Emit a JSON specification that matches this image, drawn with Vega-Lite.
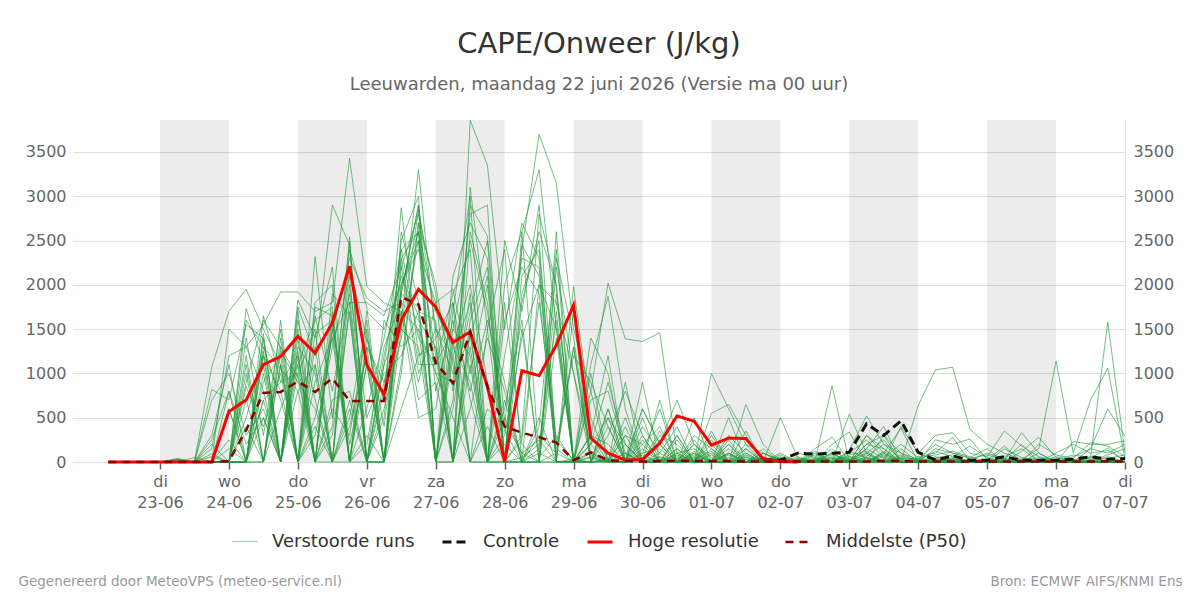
{
  "$schema": "https://vega.github.io/schema/vega-lite/v6.json",
  "width": 1052,
  "height": 342,
  "padding": {"left": 18, "top": 29, "right": 5, "bottom": 5},
  "background": "white",
  "config": {"font": "DejaVu Sans", "view": {"stroke": null}, "axisX": {"ticks": true, "tickSize": 7, "tickColor": "#666666"}},
  "title": {
    "text": "CAPE/Onweer (J/kg)",
    "subtitle": "Leeuwarden, maandag 22 juni 2026 (Versie ma 00 uur)",
    "anchor": "middle",
    "frame": "group",
    "fontSize": 29,
    "fontWeight": "normal",
    "color": "#333333",
    "subtitleFontSize": 18,
    "subtitleColor": "#666666",
    "subtitlePadding": 17.5,
    "offset": 24
  },
  "datasets": {
    "bands": [
      {"t": "2026-06-23T00:00", "e": "2026-06-24T00:00"},
      {"t": "2026-06-25T00:00", "e": "2026-06-26T00:00"},
      {"t": "2026-06-27T00:00", "e": "2026-06-28T00:00"},
      {"t": "2026-06-29T00:00", "e": "2026-06-30T00:00"},
      {"t": "2026-07-01T00:00", "e": "2026-07-02T00:00"},
      {"t": "2026-07-03T00:00", "e": "2026-07-04T00:00"},
      {"t": "2026-07-05T00:00", "e": "2026-07-06T00:00"}
    ],
    "runs": [
      {"t":"2026-06-22T06:00","Hoge resolutie":0,"Middelste (P50)":0,"m1":0,"m2":0,"m3":0,"m4":0,"m5":0,"m6":0,"m7":0,"m8":0,"m9":0,"m10":0,"m11":0,"m12":0,"m13":0,"m14":0,"m15":0,"m16":0,"m17":0,"m18":0,"m19":0,"m20":0,"m21":0,"m22":0,"m23":0,"m24":0,"m25":0,"m26":0,"m27":0,"m28":0,"m29":0,"m30":0},
      {"t":"2026-06-22T12:00","Hoge resolutie":0,"Middelste (P50)":0,"m1":0,"m2":0,"m3":0,"m4":0,"m5":0,"m6":0,"m7":0,"m8":0,"m9":0,"m10":0,"m11":0,"m12":0,"m13":0,"m14":0,"m15":0,"m16":0,"m17":0,"m18":0,"m19":0,"m20":0,"m21":0,"m22":0,"m23":0,"m24":0,"m25":0,"m26":0,"m27":0,"m28":0,"m29":0,"m30":0},
      {"t":"2026-06-22T18:00","Hoge resolutie":0,"Middelste (P50)":0,"m1":0,"m2":0,"m3":0,"m4":0,"m5":0,"m6":0,"m7":0,"m8":0,"m9":0,"m10":0,"m11":0,"m12":0,"m13":0,"m14":0,"m15":0,"m16":0,"m17":0,"m18":0,"m19":0,"m20":0,"m21":0,"m22":0,"m23":0,"m24":0,"m25":0,"m26":0,"m27":0,"m28":0,"m29":0,"m30":0},
      {"t":"2026-06-23T00:00","Hoge resolutie":0,"Middelste (P50)":0,"m1":0,"m2":0,"m3":0,"m4":0,"m5":0,"m6":0,"m7":0,"m8":0,"m9":0,"m10":0,"m11":0,"m12":0,"m13":0,"m14":0,"m15":0,"m16":0,"m17":0,"m18":0,"m19":0,"m20":0,"m21":0,"m22":0,"m23":0,"m24":0,"m25":0,"m26":0,"m27":0,"m28":0,"m29":0,"m30":0},
      {"t":"2026-06-23T06:00","Hoge resolutie":0,"Middelste (P50)":0,"m1":0,"m2":30,"m3":0,"m4":0,"m5":20,"m6":0,"m7":0,"m8":40,"m9":0,"m10":0,"m11":0,"m12":10,"m13":0,"m14":0,"m15":30,"m16":0,"m17":0,"m18":0,"m19":0,"m20":0,"m21":0,"m22":20,"m23":0,"m24":0,"m25":0,"m26":0,"m27":0,"m28":0,"m29":0,"m30":0},
      {"t":"2026-06-23T12:00","Hoge resolutie":0,"Middelste (P50)":0,"m1":0,"m2":0,"m3":10,"m4":0,"m5":0,"m6":0,"m7":0,"m8":0,"m9":0,"m10":0,"m11":0,"m12":0,"m13":0,"m14":0,"m15":0,"m16":0,"m17":0,"m18":0,"m19":50,"m20":0,"m21":0,"m22":0,"m23":0,"m24":0,"m25":0,"m26":0,"m27":0,"m28":0,"m29":0,"m30":0},
      {"t":"2026-06-23T18:00","Hoge resolutie":0,"Middelste (P50)":0,"m1":0,"m2":0,"m3":1070,"m4":0,"m5":820,"m6":0,"m7":0,"m8":250,"m9":0,"m10":0,"m11":300,"m12":0,"m13":0,"m14":200,"m15":0,"m16":0,"m17":0,"m18":700,"m19":0,"m20":0,"m21":90,"m22":0,"m23":0,"m24":0,"m25":150,"m26":0,"m27":0,"m28":0,"m29":60,"m30":0},
      {"t":"2026-06-24T00:00","Hoge resolutie":570,"Middelste (P50)":10,"m1":0,"m2":1500,"m3":1700,"m4":0,"m5":700,"m6":0,"m7":0,"m8":800,"m9":0,"m10":0,"m11":1100,"m12":0,"m13":600,"m14":0,"m15":0,"m16":250,"m17":0,"m18":1000,"m19":0,"m20":0,"m21":0,"m22":0,"m23":800,"m24":0,"m25":1200,"m26":0,"m27":0,"m28":150,"m29":0,"m30":600},
      {"t":"2026-06-24T06:00","Hoge resolutie":700,"Middelste (P50)":360,"m1":500,"m2":1300,"m3":1950,"m4":0,"m5":1550,"m6":0,"m7":1730,"m8":0,"m9":900,"m10":0,"m11":0,"m12":1400,"m13":0,"m14":1200,"m15":0,"m16":0,"m17":700,"m18":300,"m19":1100,"m20":0,"m21":1600,"m22":0,"m23":200,"m24":1000,"m25":1300,"m26":0,"m27":400,"m28":0,"m29":850,"m30":0},
      {"t":"2026-06-24T12:00","Hoge resolutie":1100,"Middelste (P50)":780,"m1":1200,"m2":1550,"m3":1500,"m4":700,"m5":1400,"m6":900,"m7":1100,"m8":1300,"m9":1600,"m10":0,"m11":1250,"m12":300,"m13":1450,"m14":0,"m15":1650,"m16":700,"m17":0,"m18":600,"m19":0,"m20":1000,"m21":1300,"m22":0,"m23":500,"m24":0,"m25":800,"m26":1200,"m27":0,"m28":1400,"m29":400,"m30":500},
      {"t":"2026-06-24T18:00","Hoge resolutie":1190,"Middelste (P50)":790,"m1":0,"m2":1920,"m3":1100,"m4":900,"m5":0,"m6":1200,"m7":0,"m8":1050,"m9":1300,"m10":600,"m11":0,"m12":1500,"m13":0,"m14":1100,"m15":900,"m16":0,"m17":1400,"m18":0,"m19":1250,"m20":0,"m21":700,"m22":1100,"m23":0,"m24":1600,"m25":0,"m26":800,"m27":1300,"m28":0,"m29":1000,"m30":0},
      {"t":"2026-06-25T00:00","Hoge resolutie":1420,"Middelste (P50)":910,"m1":800,"m2":1920,"m3":0,"m4":1200,"m5":1000,"m6":0,"m7":1750,"m8":800,"m9":0,"m10":1100,"m11":1400,"m12":0,"m13":1830,"m14":0,"m15":1000,"m16":1300,"m17":0,"m18":1500,"m19":900,"m20":1100,"m21":0,"m22":0,"m23":1200,"m24":0,"m25":1700,"m26":0,"m27":950,"m28":1600,"m29":0,"m30":1250},
      {"t":"2026-06-25T06:00","Hoge resolutie":1230,"Middelste (P50)":790,"m1":1100,"m2":1700,"m3":900,"m4":0,"m5":1500,"m6":1750,"m7":1200,"m8":0,"m9":400,"m10":1600,"m11":0,"m12":1100,"m13":1400,"m14":2320,"m15":0,"m16":1000,"m17":500,"m18":0,"m19":600,"m20":0,"m21":1650,"m22":1300,"m23":0,"m24":300,"m25":0,"m26":1800,"m27":0,"m28":700,"m29":1450,"m30":0},
      {"t":"2026-06-25T12:00","Hoge resolutie":1570,"Middelste (P50)":945,"m1":0,"m2":1800,"m3":1400,"m4":400,"m5":0,"m6":1650,"m7":2900,"m8":600,"m9":0,"m10":1750,"m11":1500,"m12":0,"m13":2200,"m14":500,"m15":1600,"m16":0,"m17":1400,"m18":1900,"m19":0,"m20":1500,"m21":800,"m22":0,"m23":1700,"m24":1300,"m25":0,"m26":2000,"m27":300,"m28":0,"m29":1600,"m30":700},
      {"t":"2026-06-25T18:00","Hoge resolutie":2210,"Middelste (P50)":690,"m1":400,"m2":3430,"m3":0,"m4":2540,"m5":1800,"m6":0,"m7":2450,"m8":300,"m9":2000,"m10":0,"m11":2300,"m12":600,"m13":0,"m14":2480,"m15":200,"m16":0,"m17":1800,"m18":1650,"m19":2200,"m20":0,"m21":1900,"m22":500,"m23":0,"m24":2100,"m25":700,"m26":0,"m27":1700,"m28":2400,"m29":0,"m30":800},
      {"t":"2026-06-26T00:00","Hoge resolutie":1095,"Middelste (P50)":690,"m1":1200,"m2":1980,"m3":1400,"m4":0,"m5":1800,"m6":300,"m7":0,"m8":1500,"m9":500,"m10":0,"m11":1850,"m12":0,"m13":1300,"m14":0,"m15":1100,"m16":1700,"m17":0,"m18":0,"m19":1400,"m20":200,"m21":0,"m22":1600,"m23":600,"m24":0,"m25":0,"m26":1300,"m27":0,"m28":1750,"m29":1100,"m30":0},
      {"t":"2026-06-26T06:00","Hoge resolutie":760,"Middelste (P50)":690,"m1":0,"m2":1800,"m3":700,"m4":1100,"m5":1650,"m6":0,"m7":800,"m8":0,"m9":1000,"m10":500,"m11":1700,"m12":1200,"m13":0,"m14":0,"m15":0,"m16":1500,"m17":600,"m18":0,"m19":400,"m20":1300,"m21":0,"m22":0,"m23":1400,"m24":900,"m25":0,"m26":900,"m27":1100,"m28":0,"m29":0,"m30":1600},
      {"t":"2026-06-26T12:00","Hoge resolutie":1600,"Middelste (P50)":1860,"m1":2000,"m2":1700,"m3":2870,"m4":1600,"m5":2200,"m6":1500,"m7":2400,"m8":1900,"m9":1200,"m10":2500,"m11":1800,"m12":2100,"m13":1000,"m14":2300,"m15":1700,"m16":2000,"m17":1400,"m18":2600,"m19":1900,"m20":1800,"m21":2200,"m22":1100,"m23":2400,"m24":1500,"m25":2000,"m26":1700,"m27":2300,"m28":600,"m29":1900,"m30":1300},
      {"t":"2026-06-26T18:00","Hoge resolutie":1950,"Middelste (P50)":1780,"m1":2500,"m2":900,"m3":1200,"m4":3300,"m5":2800,"m6":1300,"m7":2600,"m8":2900,"m9":1700,"m10":3000,"m11":1600,"m12":1650,"m13":2700,"m14":1100,"m15":1500,"m16":2600,"m17":2500,"m18":1800,"m19":2900,"m20":700,"m21":1000,"m22":2700,"m23":1400,"m24":2850,"m25":2400,"m26":500,"m27":2600,"m28":1200,"m29":1750,"m30":1500},
      {"t":"2026-06-27T00:00","Hoge resolutie":1750,"Middelste (P50)":1120,"m1":0,"m2":1800,"m3":1300,"m4":1400,"m5":1900,"m6":0,"m7":1000,"m8":800,"m9":1600,"m10":0,"m11":1300,"m12":0,"m13":2000,"m14":1100,"m15":0,"m16":1700,"m17":1200,"m18":0,"m19":1500,"m20":900,"m21":1500,"m22":0,"m23":1100,"m24":0,"m25":1800,"m26":600,"m27":0,"m28":1400,"m29":0,"m30":1000},
      {"t":"2026-06-27T06:00","Hoge resolutie":1350,"Middelste (P50)":890,"m1":1500,"m2":1950,"m3":0,"m4":1800,"m5":0,"m6":1200,"m7":900,"m8":1600,"m9":0,"m10":2100,"m11":0,"m12":1400,"m13":800,"m14":1900,"m15":0,"m16":1300,"m17":0,"m18":1700,"m19":1000,"m20":0,"m21":1200,"m22":600,"m23":1500,"m24":0,"m25":1100,"m26":1800,"m27":700,"m28":0,"m29":1300,"m30":500},
      {"t":"2026-06-27T12:00","Hoge resolutie":1470,"Middelste (P50)":1470,"m1":1200,"m2":1000,"m3":3860,"m4":0,"m5":3100,"m6":1800,"m7":2800,"m8":800,"m9":1500,"m10":2700,"m11":1100,"m12":0,"m13":1700,"m14":2400,"m15":2600,"m16":900,"m17":600,"m18":3000,"m19":1400,"m20":1450,"m21":0,"m22":1900,"m23":2500,"m24":1600,"m25":0,"m26":700,"m27":2900,"m28":1300,"m29":2000,"m30":0},
      {"t":"2026-06-27T18:00","Hoge resolutie":850,"Middelste (P50)":850,"m1":0,"m2":2000,"m3":3350,"m4":0,"m5":1500,"m6":0,"m7":2900,"m8":1600,"m9":0,"m10":2300,"m11":0,"m12":600,"m13":2500,"m14":0,"m15":1800,"m16":0,"m17":1400,"m18":0,"m19":2100,"m20":0,"m21":400,"m22":0,"m23":1700,"m24":2200,"m25":0,"m26":0,"m27":2550,"m28":0,"m29":900,"m30":1500},
      {"t":"2026-06-28T00:00","Hoge resolutie":0,"Middelste (P50)":400,"m1":300,"m2":0,"m3":1500,"m4":500,"m5":2400,"m6":0,"m7":0,"m8":900,"m9":200,"m10":0,"m11":1800,"m12":400,"m13":0,"m14":2500,"m15":0,"m16":1200,"m17":800,"m18":0,"m19":0,"m20":700,"m21":0,"m22":1600,"m23":350,"m24":0,"m25":2000,"m26":0,"m27":450,"m28":600,"m29":0,"m30":0},
      {"t":"2026-06-28T06:00","Hoge resolutie":1030,"Middelste (P50)":330,"m1":1400,"m2":2400,"m3":2700,"m4":100,"m5":0,"m6":1800,"m7":2600,"m8":0,"m9":0,"m10":2100,"m11":200,"m12":2450,"m13":0,"m14":1700,"m15":50,"m16":2300,"m17":0,"m18":0,"m19":1900,"m20":0,"m21":1500,"m22":2200,"m23":0,"m24":300,"m25":2600,"m26":0,"m27":100,"m28":1600,"m29":0,"m30":250},
      {"t":"2026-06-28T12:00","Hoge resolutie":975,"Middelste (P50)":280,"m1":2000,"m2":3700,"m3":2300,"m4":0,"m5":300,"m6":2600,"m7":3300,"m8":100,"m9":400,"m10":2400,"m11":0,"m12":2100,"m13":0,"m14":2900,"m15":200,"m16":2200,"m17":0,"m18":500,"m19":2500,"m20":150,"m21":0,"m22":1900,"m23":0,"m24":2800,"m25":50,"m26":2000,"m27":250,"m28":0,"m29":0,"m30":1800},
      {"t":"2026-06-28T18:00","Hoge resolutie":1320,"Middelste (P50)":220,"m1":1800,"m2":3150,"m3":0,"m4":2600,"m5":100,"m6":2000,"m7":1500,"m8":0,"m9":2400,"m10":200,"m11":1700,"m12":0,"m13":2300,"m14":150,"m15":1600,"m16":0,"m17":2200,"m18":0,"m19":50,"m20":1900,"m21":1400,"m22":0,"m23":0,"m24":2000,"m25":300,"m26":1500,"m27":0,"m28":100,"m29":0,"m30":250},
      {"t":"2026-06-29T00:00","Hoge resolutie":1770,"Middelste (P50)":20,"m1":1000,"m2":1500,"m3":1980,"m4":0,"m5":1300,"m6":0,"m7":0,"m8":1700,"m9":0,"m10":1200,"m11":0,"m12":30,"m13":1400,"m14":0,"m15":0,"m16":0,"m17":1000,"m18":10,"m19":1300,"m20":0,"m21":0,"m22":0,"m23":0,"m24":0,"m25":0,"m26":0,"m27":0,"m28":0,"m29":0,"m30":20},
      {"t":"2026-06-29T06:00","Hoge resolutie":270,"Middelste (P50)":110,"m1":200,"m2":800,"m3":500,"m4":1100,"m5":0,"m6":1400,"m7":300,"m8":0,"m9":50,"m10":900,"m11":200,"m12":0,"m13":80,"m14":700,"m15":0,"m16":1000,"m17":0,"m18":300,"m19":30,"m20":0,"m21":800,"m22":0,"m23":200,"m24":60,"m25":0,"m26":120,"m27":0,"m28":100,"m29":300,"m30":0},
      {"t":"2026-06-29T12:00","Hoge resolutie":100,"Middelste (P50)":20,"m1":500,"m2":2020,"m3":0,"m4":1870,"m5":0,"m6":1000,"m7":0,"m8":600,"m9":0,"m10":400,"m11":900,"m12":300,"m13":0,"m14":800,"m15":20,"m16":0,"m17":500,"m18":1200,"m19":0,"m20":10,"m21":0,"m22":600,"m23":0,"m24":0,"m25":400,"m26":0,"m27":30,"m28":0,"m29":200,"m30":0},
      {"t":"2026-06-29T18:00","Hoge resolutie":20,"Middelste (P50)":10,"m1":0,"m2":1390,"m3":0,"m4":600,"m5":0,"m6":0,"m7":900,"m8":0,"m9":300,"m10":0,"m11":200,"m12":800,"m13":0,"m14":100,"m15":500,"m16":0,"m17":200,"m18":0,"m19":400,"m20":0,"m21":100,"m22":0,"m23":300,"m24":0,"m25":0,"m26":200,"m27":0,"m28":50,"m29":0,"m30":100},
      {"t":"2026-06-30T00:00","Hoge resolutie":30,"Middelste (P50)":5,"m1":300,"m2":1360,"m3":600,"m4":0,"m5":900,"m6":200,"m7":0,"m8":500,"m9":0,"m10":100,"m11":0,"m12":300,"m13":600,"m14":0,"m15":0,"m16":250,"m17":0,"m18":400,"m19":0,"m20":150,"m21":0,"m22":0,"m23":200,"m24":0,"m25":100,"m26":0,"m27":50,"m28":0,"m29":80,"m30":0},
      {"t":"2026-06-30T06:00","Hoge resolutie":210,"Middelste (P50)":10,"m1":0,"m2":1460,"m3":200,"m4":700,"m5":0,"m6":400,"m7":300,"m8":0,"m9":100,"m10":600,"m11":0,"m12":0,"m13":200,"m14":0,"m15":350,"m16":0,"m17":0,"m18":100,"m19":250,"m20":0,"m21":50,"m22":200,"m23":0,"m24":0,"m25":150,"m26":0,"m27":0,"m28":30,"m29":0,"m30":60},
      {"t":"2026-06-30T12:00","Hoge resolutie":520,"Middelste (P50)":15,"m1":0,"m2":100,"m3":700,"m4":0,"m5":300,"m6":0,"m7":200,"m8":100,"m9":400,"m10":0,"m11":150,"m12":0,"m13":0,"m14":250,"m15":0,"m16":100,"m17":300,"m18":0,"m19":0,"m20":150,"m21":0,"m22":0,"m23":60,"m24":0,"m25":0,"m26":80,"m27":0,"m28":0,"m29":40,"m30":0},
      {"t":"2026-06-30T18:00","Hoge resolutie":460,"Middelste (P50)":10,"m1":100,"m2":0,"m3":200,"m4":300,"m5":0,"m6":500,"m7":0,"m8":150,"m9":0,"m10":250,"m11":0,"m12":80,"m13":200,"m14":0,"m15":120,"m16":0,"m17":0,"m18":60,"m19":0,"m20":0,"m21":100,"m22":0,"m23":0,"m24":200,"m25":0,"m26":0,"m27":30,"m28":0,"m29":0,"m30":50},
      {"t":"2026-07-01T00:00","Hoge resolutie":190,"Middelste (P50)":10,"m1":0,"m2":1000,"m3":0,"m4":150,"m5":550,"m6":0,"m7":350,"m8":0,"m9":200,"m10":0,"m11":300,"m12":0,"m13":0,"m14":100,"m15":0,"m16":250,"m17":0,"m18":0,"m19":80,"m20":0,"m21":0,"m22":150,"m23":0,"m24":50,"m25":0,"m26":0,"m27":120,"m28":0,"m29":0,"m30":0},
      {"t":"2026-07-01T06:00","Hoge resolutie":270,"Middelste (P50)":10,"m1":200,"m2":600,"m3":300,"m4":0,"m5":650,"m6":100,"m7":0,"m8":500,"m9":0,"m10":150,"m11":0,"m12":200,"m13":0,"m14":0,"m15":250,"m16":0,"m17":100,"m18":0,"m19":0,"m20":80,"m21":0,"m22":0,"m23":50,"m24":0,"m25":0,"m26":100,"m27":0,"m28":0,"m29":0,"m30":20},
      {"t":"2026-07-01T12:00","Hoge resolutie":265,"Middelste (P50)":5,"m1":0,"m2":200,"m3":100,"m4":650,"m5":300,"m6":0,"m7":150,"m8":0,"m9":350,"m10":0,"m11":100,"m12":0,"m13":200,"m14":0,"m15":0,"m16":80,"m17":0,"m18":150,"m19":0,"m20":0,"m21":50,"m22":0,"m23":0,"m24":30,"m25":0,"m26":0,"m27":0,"m28":60,"m29":0,"m30":0},
      {"t":"2026-07-01T18:00","Hoge resolutie":35,"Middelste (P50)":5,"Controle":30,"m1":50,"m2":100,"m3":0,"m4":200,"m5":0,"m6":150,"m7":0,"m8":100,"m9":0,"m10":60,"m11":0,"m12":30,"m13":0,"m14":100,"m15":0,"m16":0,"m17":50,"m18":0,"m19":20,"m20":0,"m21":0,"m22":40,"m23":0,"m24":0,"m25":0,"m26":20,"m27":0,"m28":0,"m29":10,"m30":0},
      {"t":"2026-07-02T00:00","Hoge resolutie":5,"Middelste (P50)":5,"Controle":20,"m1":0,"m2":20,"m3":500,"m4":0,"m5":80,"m6":0,"m7":60,"m8":0,"m9":100,"m10":0,"m11":40,"m12":0,"m13":0,"m14":20,"m15":30,"m16":0,"m17":0,"m18":0,"m19":50,"m20":0,"m21":0,"m22":0,"m23":20,"m24":0,"m25":0,"m26":0,"m27":30,"m28":0,"m29":0,"m30":0},
      {"t":"2026-07-02T06:00","Hoge resolutie":0,"Middelste (P50)":5,"Controle":100,"m1":30,"m2":0,"m3":50,"m4":100,"m5":0,"m6":40,"m7":0,"m8":20,"m9":0,"m10":60,"m11":0,"m12":0,"m13":30,"m14":0,"m15":0,"m16":10,"m17":0,"m18":20,"m19":0,"m20":0,"m21":0,"m22":10,"m23":0,"m24":0,"m25":20,"m26":0,"m27":0,"m28":0,"m29":0,"m30":0},
      {"t":"2026-07-02T12:00","Middelste (P50)":5,"Controle":90,"m1":0,"m2":120,"m3":0,"m4":50,"m5":150,"m6":0,"m7":30,"m8":0,"m9":100,"m10":0,"m11":80,"m12":20,"m13":0,"m14":60,"m15":0,"m16":0,"m17":20,"m18":0,"m19":0,"m20":40,"m21":0,"m22":0,"m23":0,"m24":10,"m25":0,"m26":0,"m27":30,"m28":0,"m29":0,"m30":0},
      {"t":"2026-07-02T18:00","Middelste (P50)":5,"Controle":100,"m1":100,"m2":0,"m3":860,"m4":0,"m5":280,"m6":200,"m7":0,"m8":150,"m9":0,"m10":50,"m11":0,"m12":100,"m13":0,"m14":0,"m15":80,"m16":0,"m17":30,"m18":0,"m19":100,"m20":0,"m21":0,"m22":20,"m23":0,"m24":0,"m25":40,"m26":0,"m27":0,"m28":60,"m29":0,"m30":0},
      {"t":"2026-07-03T00:00","Middelste (P50)":5,"Controle":110,"m1":0,"m2":540,"m3":0,"m4":130,"m5":0,"m6":340,"m7":100,"m8":0,"m9":60,"m10":0,"m11":120,"m12":0,"m13":30,"m14":80,"m15":0,"m16":0,"m17":40,"m18":0,"m19":0,"m20":20,"m21":0,"m22":60,"m23":0,"m24":0,"m25":0,"m26":30,"m27":0,"m28":0,"m29":20,"m30":0},
      {"t":"2026-07-03T06:00","Middelste (P50)":5,"Controle":430,"m1":200,"m2":100,"m3":300,"m4":520,"m5":150,"m6":0,"m7":250,"m8":100,"m9":0,"m10":300,"m11":50,"m12":200,"m13":0,"m14":120,"m15":60,"m16":0,"m17":100,"m18":0,"m19":0,"m20":80,"m21":150,"m22":0,"m23":40,"m24":0,"m25":50,"m26":0,"m27":30,"m28":0,"m29":0,"m30":0},
      {"t":"2026-07-03T12:00","Middelste (P50)":10,"Controle":300,"m1":300,"m2":0,"m3":150,"m4":200,"m5":400,"m6":100,"m7":50,"m8":250,"m9":0,"m10":100,"m11":0,"m12":150,"m13":300,"m14":0,"m15":200,"m16":80,"m17":0,"m18":60,"m19":100,"m20":0,"m21":40,"m22":0,"m23":0,"m24":120,"m25":0,"m26":0,"m27":0,"m28":20,"m29":0,"m30":30},
      {"t":"2026-07-03T18:00","Middelste (P50)":10,"Controle":465,"m1":0,"m2":400,"m3":0,"m4":100,"m5":0,"m6":380,"m7":200,"m8":0,"m9":150,"m10":0,"m11":80,"m12":0,"m13":100,"m14":0,"m15":30,"m16":0,"m17":60,"m18":0,"m19":0,"m20":50,"m21":0,"m22":20,"m23":0,"m24":0,"m25":40,"m26":0,"m27":0,"m28":0,"m29":0,"m30":0},
      {"t":"2026-07-04T00:00","Middelste (P50)":5,"Controle":110,"m1":640,"m2":100,"m3":0,"m4":30,"m5":60,"m6":0,"m7":50,"m8":20,"m9":0,"m10":40,"m11":0,"m12":10,"m13":0,"m14":30,"m15":0,"m16":0,"m17":20,"m18":0,"m19":0,"m20":0,"m21":10,"m22":0,"m23":0,"m24":0,"m25":0,"m26":20,"m27":0,"m28":0,"m29":0,"m30":0},
      {"t":"2026-07-04T06:00","Middelste (P50)":5,"Controle":20,"m1":1040,"m2":300,"m3":250,"m4":200,"m5":100,"m6":150,"m7":80,"m8":120,"m9":50,"m10":0,"m11":60,"m12":0,"m13":30,"m14":40,"m15":0,"m16":20,"m17":0,"m18":10,"m19":0,"m20":0,"m21":0,"m22":30,"m23":0,"m24":0,"m25":0,"m26":0,"m27":0,"m28":0,"m29":0,"m30":10},
      {"t":"2026-07-04T12:00","Middelste (P50)":5,"Controle":70,"m1":1070,"m2":330,"m3":200,"m4":100,"m5":280,"m6":100,"m7":120,"m8":60,"m9":80,"m10":30,"m11":0,"m12":50,"m13":0,"m14":20,"m15":40,"m16":0,"m17":0,"m18":30,"m19":0,"m20":10,"m21":0,"m22":0,"m23":0,"m24":20,"m25":0,"m26":0,"m27":0,"m28":0,"m29":0,"m30":0},
      {"t":"2026-07-04T18:00","Middelste (P50)":5,"Controle":20,"m1":370,"m2":100,"m3":260,"m4":50,"m5":0,"m6":40,"m7":60,"m8":180,"m9":0,"m10":20,"m11":30,"m12":0,"m13":0,"m14":10,"m15":0,"m16":0,"m17":20,"m18":0,"m19":0,"m20":0,"m21":0,"m22":0,"m23":10,"m24":0,"m25":0,"m26":0,"m27":0,"m28":0,"m29":0,"m30":0},
      {"t":"2026-07-05T00:00","Middelste (P50)":5,"Controle":20,"m1":200,"m2":60,"m3":30,"m4":150,"m5":20,"m6":80,"m7":0,"m8":50,"m9":0,"m10":100,"m11":0,"m12":10,"m13":0,"m14":30,"m15":0,"m16":0,"m17":0,"m18":20,"m19":0,"m20":0,"m21":10,"m22":0,"m23":0,"m24":0,"m25":0,"m26":0,"m27":0,"m28":0,"m29":0,"m30":0},
      {"t":"2026-07-05T06:00","Middelste (P50)":5,"Controle":60,"m1":100,"m2":350,"m3":20,"m4":0,"m5":180,"m6":30,"m7":150,"m8":0,"m9":60,"m10":40,"m11":0,"m12":0,"m13":20,"m14":0,"m15":10,"m16":0,"m17":0,"m18":0,"m19":30,"m20":0,"m21":0,"m22":0,"m23":0,"m24":10,"m25":0,"m26":0,"m27":0,"m28":0,"m29":0,"m30":0},
      {"t":"2026-07-05T12:00","Middelste (P50)":5,"Controle":20,"m1":30,"m2":180,"m3":330,"m4":120,"m5":0,"m6":200,"m7":50,"m8":0,"m9":150,"m10":0,"m11":30,"m12":20,"m13":0,"m14":10,"m15":0,"m16":0,"m17":0,"m18":0,"m19":20,"m20":0,"m21":0,"m22":0,"m23":0,"m24":0,"m25":0,"m26":0,"m27":0,"m28":0,"m29":0,"m30":0},
      {"t":"2026-07-05T18:00","Middelste (P50)":5,"Controle":20,"m1":150,"m2":60,"m3":100,"m4":280,"m5":200,"m6":0,"m7":20,"m8":100,"m9":0,"m10":50,"m11":0,"m12":0,"m13":10,"m14":0,"m15":0,"m16":0,"m17":0,"m18":0,"m19":0,"m20":0,"m21":0,"m22":0,"m23":0,"m24":0,"m25":0,"m26":0,"m27":0,"m28":0,"m29":0,"m30":0},
      {"t":"2026-07-06T00:00","Middelste (P50)":5,"Controle":20,"m1":1140,"m2":20,"m3":0,"m4":50,"m5":80,"m6":100,"m7":30,"m8":0,"m9":60,"m10":0,"m11":20,"m12":0,"m13":0,"m14":0,"m15":0,"m16":0,"m17":0,"m18":0,"m19":10,"m20":0,"m21":0,"m22":0,"m23":0,"m24":0,"m25":0,"m26":0,"m27":0,"m28":0,"m29":0,"m30":0},
      {"t":"2026-07-06T06:00","Middelste (P50)":5,"Controle":30,"m1":100,"m2":80,"m3":230,"m4":0,"m5":40,"m6":200,"m7":0,"m8":60,"m9":20,"m10":0,"m11":0,"m12":30,"m13":0,"m14":10,"m15":0,"m16":0,"m17":0,"m18":0,"m19":0,"m20":0,"m21":0,"m22":0,"m23":0,"m24":0,"m25":0,"m26":0,"m27":0,"m28":0,"m29":0,"m30":0},
      {"t":"2026-07-06T12:00","Middelste (P50)":5,"Controle":60,"m1":700,"m2":50,"m3":200,"m4":150,"m5":220,"m6":100,"m7":10,"m8":150,"m9":40,"m10":20,"m11":60,"m12":0,"m13":30,"m14":0,"m15":0,"m16":20,"m17":0,"m18":0,"m19":0,"m20":0,"m21":0,"m22":0,"m23":0,"m24":0,"m25":0,"m26":0,"m27":0,"m28":0,"m29":0,"m30":0},
      {"t":"2026-07-06T18:00","Middelste (P50)":10,"Controle":30,"m1":1060,"m2":1580,"m3":200,"m4":600,"m5":180,"m6":130,"m7":80,"m8":100,"m9":160,"m10":40,"m11":0,"m12":60,"m13":0,"m14":20,"m15":0,"m16":0,"m17":10,"m18":0,"m19":0,"m20":0,"m21":0,"m22":0,"m23":0,"m24":0,"m25":0,"m26":0,"m27":0,"m28":0,"m29":0,"m30":0},
      {"t":"2026-07-07T00:00","Middelste (P50)":5,"Controle":40,"m1":30,"m2":100,"m3":240,"m4":290,"m5":60,"m6":20,"m7":150,"m8":200,"m9":0,"m10":80,"m11":10,"m12":0,"m13":30,"m14":0,"m15":0,"m16":0,"m17":0,"m18":0,"m19":0,"m20":0,"m21":0,"m22":0,"m23":0,"m24":0,"m25":0,"m26":0,"m27":0,"m28":0,"m29":0,"m30":0}
    ]
  },
  "resolve": {"axis": {"y": "independent"}},
  "encoding": {
    "x": {
      "field": "t",
      "type": "temporal",
      "scale": {"domain": [{"year": 2026, "month": 6, "date": 21, "hours": 17, "minutes": 42}, {"year": 2026, "month": 7, "date": 7}]},
      "axis": {
        "values": [
          {"year": 2026, "month": 6, "date": 23}, {"year": 2026, "month": 6, "date": 24},
          {"year": 2026, "month": 6, "date": 25}, {"year": 2026, "month": 6, "date": 26},
          {"year": 2026, "month": 6, "date": 27}, {"year": 2026, "month": 6, "date": 28},
          {"year": 2026, "month": 6, "date": 29}, {"year": 2026, "month": 6, "date": 30},
          {"year": 2026, "month": 7, "date": 1}, {"year": 2026, "month": 7, "date": 2},
          {"year": 2026, "month": 7, "date": 3}, {"year": 2026, "month": 7, "date": 4},
          {"year": 2026, "month": 7, "date": 5}, {"year": 2026, "month": 7, "date": 6},
          {"year": 2026, "month": 7, "date": 7}
        ],
        "labelExpr": "[['zo','ma','di','wo','do','vr','za'][day(datum.value)], timeFormat(datum.value, '%d-%m')]",
        "labelFontSize": 16,
        "labelColor": "#666666",
        "labelLineHeight": 21,
        "labelPadding": 4,
        "labelFlush": false,
        "labelOverlap": false,
        "ticks": true,
        "tickSize": 7,
        "tickColor": "#666666",
        "tickWidth": 1.5,
        "domain": false,
        "grid": false,
        "title": "Gegenereerd door MeteoVPS (meteo-service.nl)",
        "titleX": -55,
        "titleY": 123,
        "titleAlign": "left",
        "titleBaseline": "alphabetic",
        "titleFontSize": 13.5,
        "titleFontWeight": "normal",
        "titleColor": "#999999"
      }
    }
  },
  "layer": [
    {
      "data": {"name": "bands"},
      "mark": {"type": "rect", "color": "#000000", "opacity": 0.075},
      "encoding": {"x2": {"field": "e"}}
    },
    {
      "data": {"name": "runs"},
      "transform": [
        {"fold": ["m1","m2","m3","m4","m5","m6","m7","m8","m9","m10","m11","m12","m13","m14","m15","m16","m17","m18","m19","m20","m21","m22","m23","m24","m25","m26","m27","m28","m29","m30"], "as": ["lid", "v"]}
      ],
      "mark": {"type": "line", "color": "#22963a", "strokeWidth": 1, "opacity": 0.62},
      "encoding": {
        "y": {
          "field": "v",
          "type": "quantitative",
          "scale": {"domain": [0, 3861], "nice": false},
          "axis": {
            "orient": "left",
            "values": [0, 500, 1000, 1500, 2000, 2500, 3000, 3500],
            "format": "d",
            "labelFontSize": 16,
            "labelColor": "#666666",
            "labelPadding": 7,
            "ticks": false,
            "domain": false,
            "grid": true,
            "gridColor": "#dddddd",
            "title": null
          }
        },
        "detail": {"field": "lid", "type": "nominal"}
      }
    },
    {
      "data": {"name": "runs"},
      "transform": [
        {"fold": ["Controle", "Hoge resolutie", "Middelste (P50)"], "as": ["reeks", "v"]}
      ],
      "mark": {"type": "line"},
      "encoding": {
        "y": {
          "field": "v",
          "type": "quantitative",
          "scale": {"domain": [0, 3861], "nice": false},
          "axis": {
            "orient": "right",
            "values": [0, 500, 1000, 1500, 2000, 2500, 3000, 3500],
            "format": "d",
            "labelFontSize": 16,
            "labelColor": "#666666",
            "labelPadding": 8,
            "ticks": false,
            "domain": true,
            "domainColor": "#e6e6e6",
            "grid": false,
            "title": "Bron: ECMWF AIFS/KNMI Ens",
            "titleX": 57,
            "titleY": 465,
            "titleAngle": 0,
            "titleAlign": "right",
            "titleBaseline": "alphabetic",
            "titleFontSize": 13.5,
            "titleFontWeight": "normal",
            "titleColor": "#999999"
          }
        },
        "color": {
          "field": "reeks",
          "type": "nominal",
          "scale": {"domain": ["Verstoorde runs", "Controle", "Hoge resolutie", "Middelste (P50)"], "range": ["#22963a", "#111111", "#ff0000", "#8b0000"]},
          "legend": {
            "title": null,
            "orient": "none",
            "legendX": 159,
            "legendY": 408,
            "direction": "horizontal",
            "symbolType": "stroke",
            "symbolSize": 625,
            "labelFontSize": 18,
            "labelColor": "#333333",
            "labelOffset": 14,
            "columnPadding": 21
          }
        },
        "strokeDash": {
          "field": "reeks",
          "type": "nominal",
          "scale": {"domain": ["Verstoorde runs", "Controle", "Hoge resolutie", "Middelste (P50)"], "range": [[1, 0], [9, 5], [1, 0], [8, 6]]}
        },
        "strokeWidth": {
          "field": "reeks",
          "type": "nominal",
          "scale": {"type": "ordinal", "domain": ["Verstoorde runs", "Controle", "Hoge resolutie", "Middelste (P50)"], "range": [1, 3, 3, 2.5]}
        },
        "opacity": {
          "field": "reeks",
          "type": "nominal",
          "scale": {"type": "ordinal", "domain": ["Verstoorde runs", "Controle", "Hoge resolutie", "Middelste (P50)"], "range": [0.62, 1, 1, 1]}
        }
      }
    }
  ]
}
